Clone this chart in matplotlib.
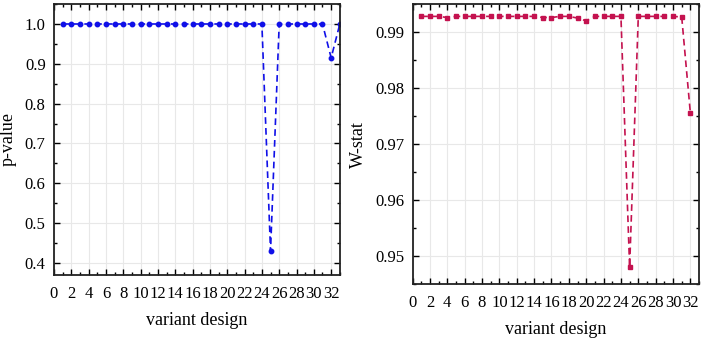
## p-value and W-stat per variant design
import matplotlib.pyplot as plt
from matplotlib.ticker import MultipleLocator
import numpy as np

plt.rcParams['font.family'] = ['Liberation Serif', 'DejaVu Serif']

## data
variant_p = list(range(1, 34))
p_value = [1.0] * 24 + [0.43] + [1.0] * 6 + [0.915, 1.0]

variant_w = list(range(1, 33))
w_stat = [0.9928, 0.9928, 0.9928, 0.9926, 0.9928, 0.9928, 0.9928, 0.9928,
          0.9928, 0.9928, 0.9928, 0.9928, 0.9928, 0.9928, 0.9926, 0.9926,
          0.9928, 0.9928, 0.9925, 0.9920, 0.9928, 0.9928, 0.9928, 0.9928,
          0.948, 0.9928, 0.9928, 0.9928, 0.9928, 0.9928, 0.9927, 0.9755]

fig = plt.figure(figsize=(7.04, 3.39), dpi=100)
ax1 = fig.add_axes([0.0767, 0.189, 0.406, 0.799])
ax2 = fig.add_axes([0.586, 0.162, 0.407, 0.826])


def style(ax, ylab, ymaj, ymin):
    ax.grid(True, color='#e8e8e8', linewidth=0.8)
    ax.set_axisbelow(True)
    ax.xaxis.set_major_locator(MultipleLocator(2))
    ax.xaxis.set_minor_locator(MultipleLocator(1))
    ax.yaxis.set_major_locator(MultipleLocator(ymaj))
    ax.yaxis.set_minor_locator(MultipleLocator(ymin))
    ax.tick_params(which='both', direction='in', top=True, right=True,
                   labelsize=12)
    ax.tick_params(axis='x', pad=8)
    ax.tick_params(axis='y', pad=6)
    ax.tick_params(which='major', length=4, width=1)
    ax.tick_params(which='minor', length=2.5, width=1)
    for s in ax.spines.values():
        s.set_linewidth(1.3)
        s.set_color('#222222')
    ax.set_xlabel('variant design', fontsize=13, labelpad=7)
    ax.set_ylabel(ylab, fontsize=13, labelpad=6)


ax1.plot(variant_p, p_value, color='#1010e8', linestyle='--', dashes=(4, 2.5),
         linewidth=1.2, marker='o', markersize=3.2)
ax1.set_xlim(0, 33)
ax1.set_ylim(0.37, 1.05)
style(ax1, 'p-value', 0.1, 0.05)
ax1.yaxis.set_major_formatter(plt.FormatStrFormatter('%.1f'))

ax2.plot(variant_w, w_stat, color='#c4124f', linestyle='--', dashes=(4, 2.5),
         linewidth=1.2, marker='s', markersize=3.2)
ax2.set_xlim(0, 33)
ax2.set_ylim(0.945, 0.995)
style(ax2, 'W-stat', 0.01, 0.005)
ax2.yaxis.set_major_formatter(plt.FormatStrFormatter('%.2f'))

plt.savefig('out.png', dpi=100)
